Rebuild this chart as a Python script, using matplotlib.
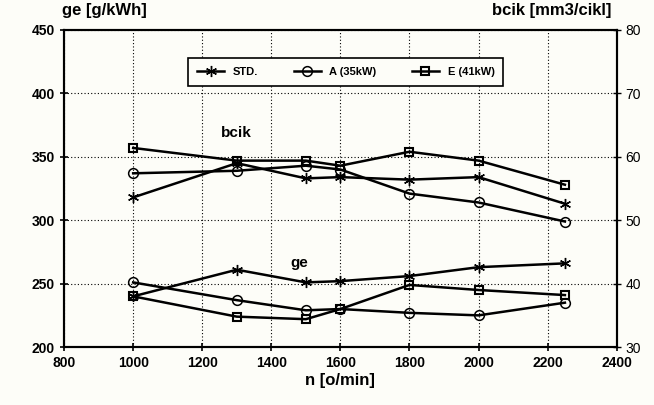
import matplotlib.pyplot as plt
import numpy as np

plt.rcParams['font.family'] = ['Liberation Sans', 'DejaVu Sans']

rpm = [1000, 1300, 1500, 1600, 1800, 2000, 2250]

ge_std = [240, 261, 251, 252, 256, 263, 266]
ge_a = [251, 237, 229, 230, 227, 225, 235]
ge_e = [240, 224, 222, 230, 249, 245, 241]

bcik_std = [53.6, 59.0, 56.6, 56.8, 56.4, 56.8, 52.6]
bcik_a = [57.4, 57.8, 58.6, 58.0, 54.2, 52.8, 49.8]
bcik_e = [61.4, 59.4, 59.4, 58.6, 60.8, 59.4, 55.6]

labels = ['STD.', 'A (35kW)', 'E (41kW)']

fig = plt.figure(figsize=(6.54, 4.05), dpi=100)
fig.patch.set_facecolor('#fdfdf8')
ax = fig.add_axes([0.098, 0.143, 0.845, 0.783])
ax.set_facecolor('#fdfdf8')
ax2 = ax.twinx()

asterisk = (6, 2, 0)
styles = [
    dict(marker=asterisk, ms=8, mew=1.0),
    dict(marker='o', ms=7, mfc='none', mew=1.1),
    dict(marker='s', ms=5.5, mfc='none', mew=1.5),
]
lw = 1.8

for ys, st, lab in zip([ge_std, ge_a, ge_e], styles, labels):
    ax.plot(rpm, ys, color='black', lw=lw, label=lab, **st)
for ys, st in zip([bcik_std, bcik_a, bcik_e], styles):
    ax2.plot(rpm, ys, color='black', lw=lw, **st)

ax.set_xlim(800, 2400)
ax.set_ylim(200, 450)
ax2.set_ylim(30, 80)
ax.set_xticks(np.arange(800, 2401, 200))
ax.set_yticks(np.arange(200, 451, 50))
ax2.set_yticks(np.arange(30, 81, 10))

ax.grid(True, color='black', ls=(0, (1, 2)), lw=0.8)
for sp in ax.spines.values():
    sp.set_linewidth(1.5)
for sp in ax2.spines.values():
    sp.set_linewidth(1.5)

ax.tick_params(axis='both', direction='inout', length=6, width=1.2,
               labelsize=10)
ax2.tick_params(axis='y', direction='inout', length=6, width=1.0,
                labelsize=10)
for t in ax.get_xticklabels() + ax.get_yticklabels():
    t.set_fontweight('bold')

ax.set_xlabel('n [o/min]', fontsize=12, fontweight='bold', labelpad=2)
fig.text(0.095, 0.955, 'ge [g/kWh]', fontsize=12, fontweight='bold',
         ha='left', va='bottom')
fig.text(0.935, 0.955, 'bcik [mm3/cikl]', fontsize=12, fontweight='bold',
         ha='right', va='bottom')

ax.text(1300, 366, 'bcik', fontsize=11, fontweight='bold', ha='center')
ax.text(1480, 263, 'ge', fontsize=11, fontweight='bold', ha='center')

leg = ax.legend(loc='upper center', bbox_to_anchor=(0.51, 0.93), ncol=3,
                frameon=True, fancybox=False, edgecolor='black',
                handlelength=2.4, columnspacing=3.2, borderpad=0.8,
                prop={'weight': 'bold', 'size': 8})
leg.get_frame().set_linewidth(1.2)
leg.get_frame().set_facecolor('#fdfdf8')
leg.get_frame().set_alpha(1)

fig.savefig('out.png', dpi=100, facecolor=fig.get_facecolor())
